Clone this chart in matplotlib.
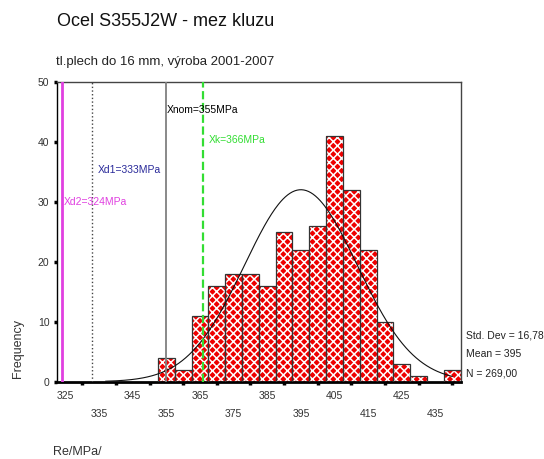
import matplotlib.pyplot as plt
import numpy as np

plt.rcParams['font.family'] = ['Liberation Sans', 'DejaVu Sans']
plt.rcParams['hatch.linewidth'] = 1.1

# histogram of yield strength, 5 MPa bins
bin_centers = np.arange(325, 445, 5)
counts = [0, 0, 0, 0, 0, 0, 4, 2, 11, 16, 18, 18, 16, 25, 22, 26, 41, 32, 22, 10, 3, 1, 0, 2]

mean = 395
std_dev = 16.78
n_obs = 269

# reference lines: (value, label, colour, style, label x, label y)
ref_lines = [
    (324, 'Xd2=324MPa', '#e040e0', '-', 324.6, 30.0),
    (333, 'Xd1=333MPa', '#2a2a9a', ':', 334.7, 35.3),
    (355, 'Xnom=355MPa', '#000000', '-', 355.1, 45.3),
    (366, 'Xk=366MPa', '#33dd33', '--', 367.7, 40.2),
]
line_colors = {324: '#e040e0', 333: '#444444', 355: '#808080', 366: '#33dd33'}
line_widths = {324: 2.0, 333: 1.0, 355: 1.3, 366: 1.6}

label_ticks = np.arange(325, 445, 10)

fig = plt.figure(figsize=(5.44, 4.59), dpi=100)
ax = fig.add_axes([0.1048, 0.1684, 0.742, 0.654])

# red bars with white cross-hatch, then dark outlines on top
ax.bar(bin_centers, counts, width=5, color='#ee0000', edgecolor='white',
       hatch='xxxx', linewidth=0, zorder=2)
ax.bar(bin_centers, counts, width=5, fill=False, edgecolor='#333333',
       linewidth=0.9, zorder=3)

# fitted normal curve
xs = np.linspace(337, 440, 300)
ys = n_obs * 5 / (std_dev * np.sqrt(2 * np.pi)) * np.exp(-0.5 * ((xs - mean) / std_dev) ** 2)
ax.plot(xs, ys, color='#111111', linewidth=0.8, zorder=4)

for val, label, tcolor, ls, lx, ly in ref_lines:
    ax.axvline(val, color=line_colors[val], linestyle=ls, linewidth=line_widths[val], zorder=5)
    ax.text(lx, ly, label, color=tcolor, fontsize=7.5, va='center', ha='left', zorder=6)

ax.set_xlim(322.5, 442.5)
ax.set_ylim(0, 50)

# small square tick marks at each bin, staggered labels every 10 MPa
ax.set_xticks(bin_centers, minor=True)
ax.set_xticks(label_ticks)
ax.set_xticklabels([str(v) for v in label_ticks])
ax.tick_params(axis='x', which='minor', length=2.5, width=2.5, direction='out', color='black')
ax.tick_params(axis='x', which='major', length=0, labelsize=7.5, labelcolor='#333333')
for i, tick in enumerate(ax.xaxis.get_major_ticks()):
    tick.set_pad(6.5 if i % 2 == 0 else 19.5)

ax.set_yticks(np.arange(0, 51, 10))
ax.tick_params(axis='y', length=2.5, width=2.5, direction='out', color='black',
               labelsize=7.5, labelcolor='#333333', pad=3)

ax.spines['bottom'].set_linewidth(2)
ax.spines['bottom'].set_color('black')
ax.spines['left'].set_color('black')
ax.spines['top'].set_color('#444444')
ax.spines['right'].set_color('#444444')
for side in ['left', 'top', 'right']:
    ax.spines[side].set_linewidth(1)

fig.text(57 / 544, 1 - 22 / 459, 'Ocel S355J2W - mez kluzu', fontsize=13,
         ha='left', va='center', color='#111111')
fig.text(56 / 544, 1 - 62 / 459, 'tl.plech do 16 mm, výroba 2001-2007', fontsize=9.5,
         ha='left', va='center', color='#222222')
fig.text(18 / 544, 1 - 348 / 459, 'Frequency', rotation=90, fontsize=9,
         ha='center', va='center', color='#333333')
fig.text(53 / 544, 1 - 452 / 459, 'Re/MPa/', fontsize=9, ha='left', va='center',
         color='#333333')

stats = [('Std. Dev = 16,78', 336), ('Mean = 395', 354), ('N = 269,00', 373)]
for txt, ypix in stats:
    fig.text(466 / 544, 1 - ypix / 459, txt, fontsize=7.5, ha='left', va='center',
             color='#222222')

fig.savefig('out.png', dpi=100)
